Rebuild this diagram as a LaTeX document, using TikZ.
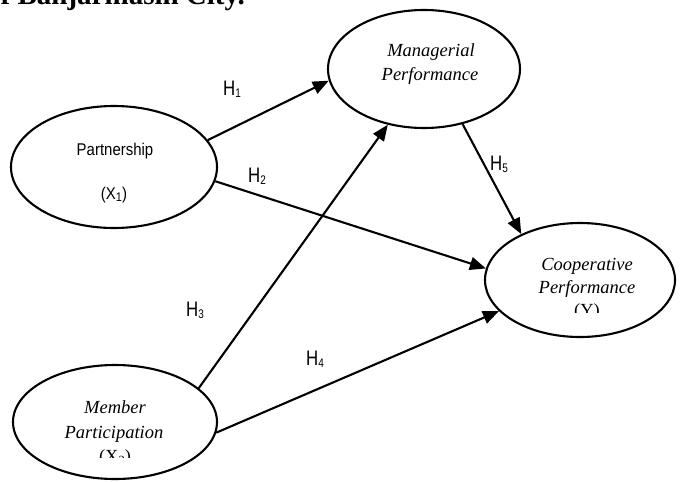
\documentclass[tikz,border=0pt]{standalone}
\usepackage{fontspec}
\setmainfont{Liberation Serif}
\newfontfamily\hfont[FakeStretch=0.8]{Liberation Sans}
\newfontfamily\pfont[FakeStretch=0.88]{Liberation Sans}
\usetikzlibrary{shapes.geometric,arrows.meta}
\newcommand\mysub[2][2.5pt]{\raisebox{-#1}{\fontsize{12.5}{12.5}\selectfont #2}}
\tikzset{
  construct/.style={draw, ellipse, line width=2.1pt, inner sep=0pt},
  itxt/.style={anchor=base, inner sep=0pt, font=\fontsize{18.5}{18.5}\selectfont\itshape},
  rtxt/.style={anchor=base, inner sep=0pt, font=\fontsize{18.5}{18.5}\selectfont\upshape},
  stxt/.style={anchor=base, inner sep=0pt, font=\fontsize{17}{17}\selectfont\pfont},
  hlab/.style={anchor=base west, inner sep=0pt, font=\fontsize{21}{21}\selectfont\hfont},
  link/.style={line width=2.1pt, -{Triangle[length=16pt,width=13pt]}}
}
\begin{document}
\begin{tikzpicture}[x=1pt,y=-1pt]
\useasboundingbox (0,0) rectangle (681,482);
\clip (0,0) rectangle (681,482);
% cut-off caption line
\node[anchor=base east, inner sep=0pt, font=\fontsize{29}{29}\selectfont\bfseries] (cap) at (245,4) {of Banjarmasin City.};
% constructs
\node[construct, minimum width=206pt, minimum height=122pt] (p) at (114,167) {};
\node[construct, minimum width=192pt, minimum height=118pt] (m) at (424,69) {};
\node[construct, minimum width=190pt, minimum height=114pt] (c) at (580,280) {};
\node[construct, minimum width=204pt, minimum height=114pt] (x2) at (115,422) {};
% texts
\node[stxt] (pt1) at (115,155) {Partnership};
\node[stxt] (pt2) at (114,199) {(X\mysub[2pt]{1})};
\node[itxt] (mt1) at (431,56) {Managerial};
\node[itxt] (mt2) at (430,80) {Performance};
\node[itxt] (ct1) at (587,270) {Cooperative};
\node[itxt] (ct2) at (587,293) {Performance};
\begin{scope}
  \clip (480,240) rectangle (681,312);
  \node[rtxt] (ct3) at (587,316) {(Y)};
\end{scope}
\node[itxt] (xt1) at (115,413) {Member};
\node[itxt] (xt2) at (114,438) {Participation};
\begin{scope}
  \clip (0,440) rectangle (230,457);
  \node[rtxt] (xt3) at (115,462) {(X\mysub[2pt]{2})};
\end{scope}
% paths
\draw[link] (p.16) -- (m.187);
\draw[link] (p.352) -- (c.173);
\draw[link] (x2.22) -- (m.237);
\draw[link] (x2.354) -- (c.201);
\draw[link] (m.305) -- (c.142);
% labels
\node[hlab] (h1) at (223,95) {H\mysub{1}};
\node[hlab] (h2) at (248,182) {H\mysub{2}};
\node[hlab] (h3) at (186,316) {H\mysub{3}};
\node[hlab] (h4) at (306,365) {H\mysub{4}};
\node[hlab] (h5) at (490,170) {H\mysub{5}};
\end{tikzpicture}
\end{document}
